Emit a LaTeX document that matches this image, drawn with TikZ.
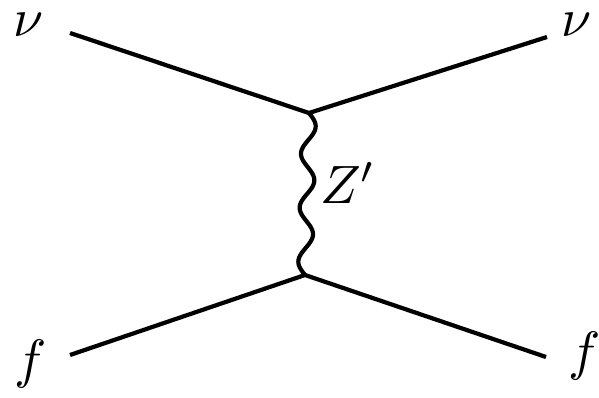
\documentclass[tikz,border=0pt]{standalone}
\usepackage{graphicx}
\usetikzlibrary{calc}
\newcommand{\biglbl}[1]{\scalebox{5.4}{#1}}
\begin{document}
\begin{tikzpicture}[x=1pt,y=-1pt,
  fermion/.style={line width=4.2pt},
  boson/.style={line width=4.2pt},
  lbl/.style={inner sep=0pt}]
\useasboundingbox (0,0) rectangle (599,398);
\coordinate (a) at (70,33);
\coordinate (b) at (547,37);
\coordinate (c) at (70,355);
\coordinate (d) at (546,357);
\coordinate (v1) at (309,113);
\coordinate (v2) at (305,275);
\draw[fermion] (a) -- (v1) -- (b);
\draw[fermion] (c) -- (v2) -- (d);
\draw[boson] let \p1=(v1), \p2=(v2) in
  plot[variable=\t,domain=0:1,samples=150,smooth]
  ({\x1+(\x2-\x1)*\t+7*sin(1080*\t)*1pt},{\y1+(\y2-\y1)*\t});
\node[lbl] (nu1) at (29,24.5) {\biglbl{$\nu$}};
\node[lbl] (nu2) at (577,24.5) {\biglbl{$\nu$}};
\node[lbl] (f1) at (31,364) {\biglbl{$f$}};
\node[lbl] (f2) at (585,356) {\biglbl{$f$}};
\node[lbl,anchor=base west] (z) at (320,203) {\biglbl{$Z'$}};
\end{tikzpicture}
\end{document}
